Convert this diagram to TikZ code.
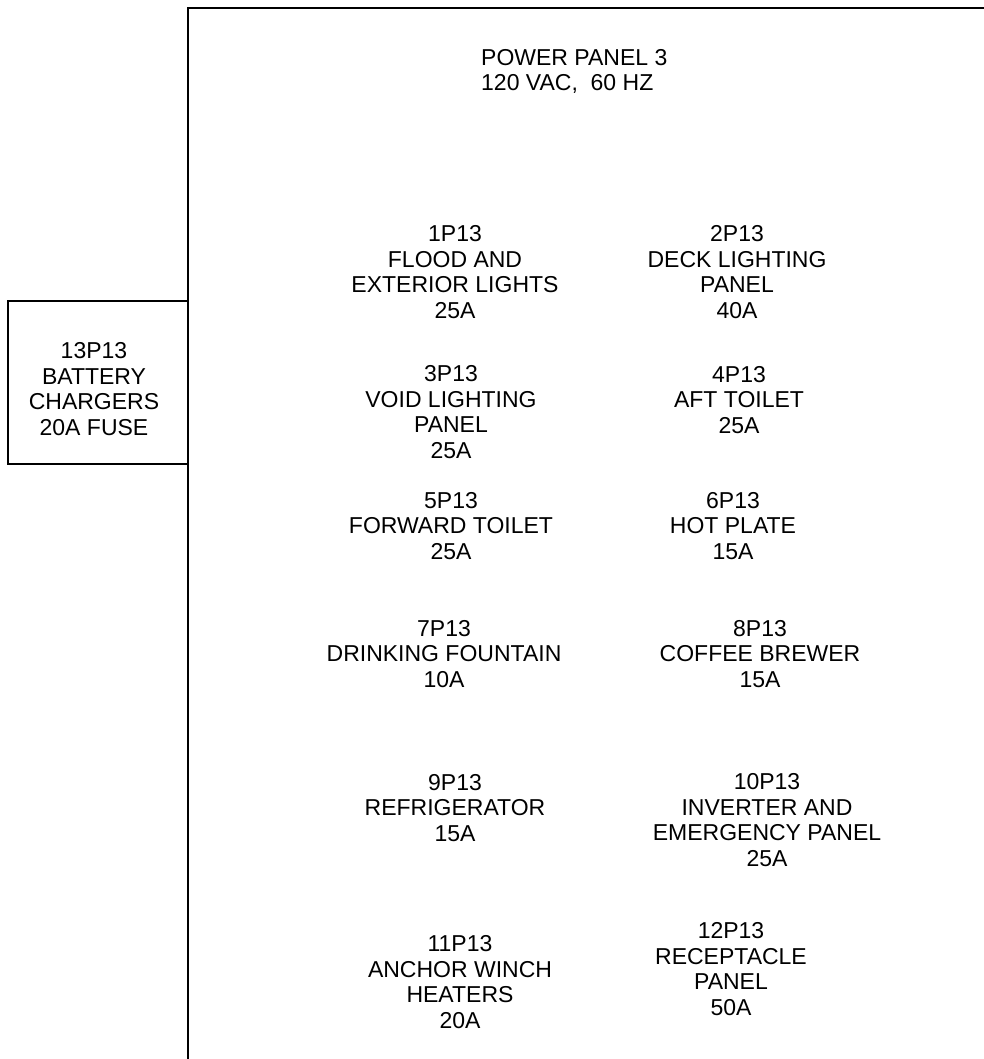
\documentclass[tikz,border=0pt]{standalone}
\usepackage{fontspec}
\setmainfont{Liberation Sans}
\begin{document}
\begin{tikzpicture}[x=1pt,y=-1pt,
    circuit/.style={align=center, anchor=base, inner sep=0pt,
      font=\fontsize{23}{25.5}\selectfont}]
            % Cadre de la page
            \useasboundingbox (0,0) rectangle (984,1059);

            % Panneau principal (coupé à droite et en bas)
            \draw[line width=2.4pt] (188,1059) -- (188,8) -- (984,8);
            \node[circuit, anchor=base west, align=left] (pp) at (481,91)
              {POWER PANEL 3\\120 VAC,\ \ 60 HZ};

            % Boîte du chargeur de batterie (base = dernière ligne)
            \draw[line width=2pt] (8,301) rectangle (188,464);
            \node[circuit] (c13) at (94,435) {13P13\\BATTERY\\CHARGERS\\20A FUSE};

            % Colonne de gauche
            \node[circuit] (c1) at (455,318) {1P13\\FLOOD AND\\EXTERIOR LIGHTS\\25A};
            \node[circuit] (c3) at (451,458) {3P13\\VOID LIGHTING\\PANEL\\25A};
            \node[circuit] (c5) at (451,559) {5P13\\FORWARD TOILET\\25A};
            \node[circuit] (c7) at (444,687) {7P13\\DRINKING FOUNTAIN\\10A};
            \node[circuit] (c9) at (455,841) {9P13\\REFRIGERATOR\\15A};
            \node[circuit] (c11) at (460,1028) {11P13\\ANCHOR WINCH\\HEATERS\\20A};

            % Colonne de droite
            \node[circuit] (c2) at (737,318) {2P13\\DECK LIGHTING\\PANEL\\40A};
            \node[circuit] (c4) at (739,433) {4P13\\AFT TOILET\\25A};
            \node[circuit] (c6) at (733,559) {6P13\\HOT PLATE\\15A};
            \node[circuit] (c8) at (760,687) {8P13\\COFFEE BREWER\\15A};
            \node[circuit] (c10) at (767,866) {10P13\\INVERTER AND\\EMERGENCY PANEL\\25A};
            \node[circuit] (c12) at (731,1015) {12P13\\RECEPTACLE\\PANEL\\50A};

        \end{tikzpicture}
\end{document}
